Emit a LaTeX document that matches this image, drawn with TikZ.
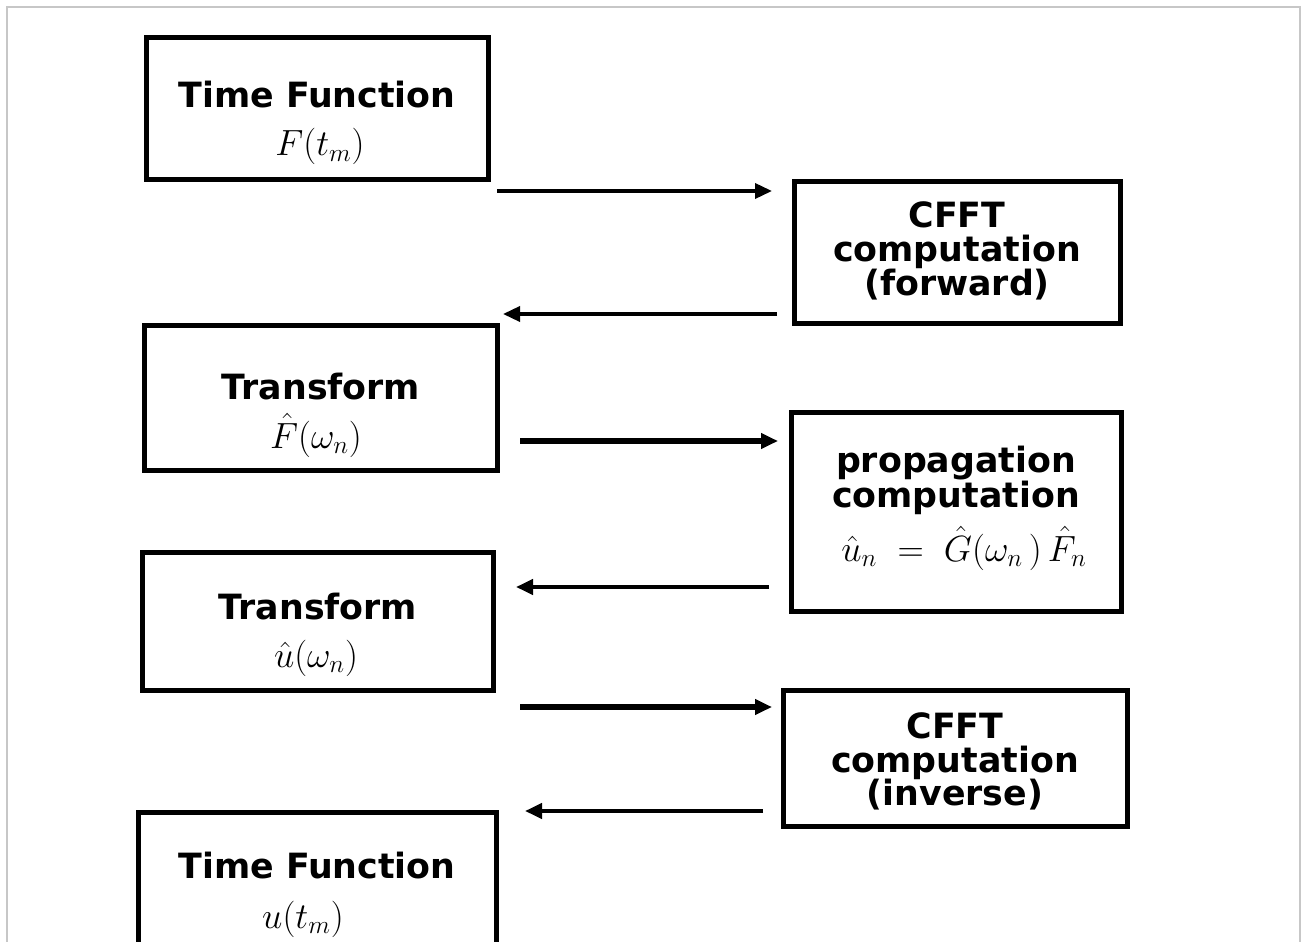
\documentclass[tikz,border=0pt]{standalone}
\usepackage{fontspec}
\setsansfont{DejaVu Sans}
\usetikzlibrary{arrows.meta}
\begin{document}
\begin{tikzpicture}[x=0.02cm,y=-0.02cm,
  box/.style={draw, line width=2.9pt, inner sep=0pt},
  ttl/.style={anchor=base, inner sep=0pt, font=\fontsize{19.8}{19.8}\sffamily\bfseries},
  mth/.style={anchor=base, inner sep=0pt, font=\fontsize{21.5}{21.5}\selectfont},
  arr/.style={-{Triangle[length=0.34cm,width=0.30cm]}, line width=#1},
  arr/.default=2.2pt]
\clip (0,0) rectangle (1304,942);
\fill[white] (0,0) rectangle (1304,942);
\draw[line width=1.2pt, black!22] (7,960) -- (7,7) -- (1300,7) -- (1300,960);

% boxes
\node[box, minimum width=6.84cm, minimum height=2.84cm] (b1) at (317.5,108.5) {};
\node[box, minimum width=6.52cm, minimum height=2.84cm] (b2) at (957.5,252.5) {};
\node[box, minimum width=7.06cm, minimum height=2.90cm] (b3) at (321,398) {};
\node[box, minimum width=6.60cm, minimum height=3.98cm] (b4) at (956.5,512) {};
\node[box, minimum width=7.02cm, minimum height=2.76cm] (b5) at (318,621.5) {};
\node[box, minimum width=6.88cm, minimum height=2.72cm] (b6) at (955.5,758.5) {};
\node[box, minimum width=7.16cm, minimum height=3.74cm] (b7) at (317.5,906) {};

% texts
\node[ttl] (t1) at (317,108) {Time Function};
\node[mth] (m1) at (320,156) {$F(t_m)$};

\node[ttl] (t2a) at (957,228) {CFFT};
\node[ttl] (t2b) at (957,262) {computation};
\node[ttl] (t2c) at (957,296) {(forward)};

\node[ttl] (t3) at (321,399) {Transform};
\node[mth] (m3) at (316,448) {$\hat{F}(\omega_n)$};

\node[ttl] (t4a) at (956,472) {propagation};
\node[ttl] (t4b) at (956,507) {computation};
\node[mth] (m4) at (964,561) {$\hat{u}_{n}\;=\;\hat{G}(\omega_{n}\,)\,\hat{F}_{n}$};

\node[ttl] (t5) at (318,619) {Transform};
\node[mth] (m5) at (316,667) {$\hat{u}(\omega_n)$};

\node[ttl] (t6a) at (955,738) {CFFT};
\node[ttl] (t6b) at (955,772) {computation};
\node[ttl] (t6c) at (955,805) {(inverse)};

\node[ttl] (t7) at (317,878) {Time Function};
\node[mth] (m7) at (303,928) {$u(t_m)$};

% arrow end points
\coordinate (a1s) at (497,191);  \coordinate (a1e) at (772,191);
\coordinate (a2s) at (777,314);  \coordinate (a2e) at (503,314);
\coordinate (a3s) at (520,441);  \coordinate (a3e) at (778,441);
\coordinate (a4s) at (769,587);  \coordinate (a4e) at (516,587);
\coordinate (a5s) at (520,707);  \coordinate (a5e) at (772,707);
\coordinate (a6s) at (763,811);  \coordinate (a6e) at (525,811);

\draw[arr=2pt] (a1s) -- (a1e);
\draw[arr=2pt] (a2s) -- (a2e);
\draw[arr=2.9pt] (a3s) -- (a3e);
\draw[arr=2.3pt] (a4s) -- (a4e);
\draw[arr=2.9pt] (a5s) -- (a5e);
\draw[arr=2.3pt] (a6s) -- (a6e);
\end{tikzpicture}
\end{document}
